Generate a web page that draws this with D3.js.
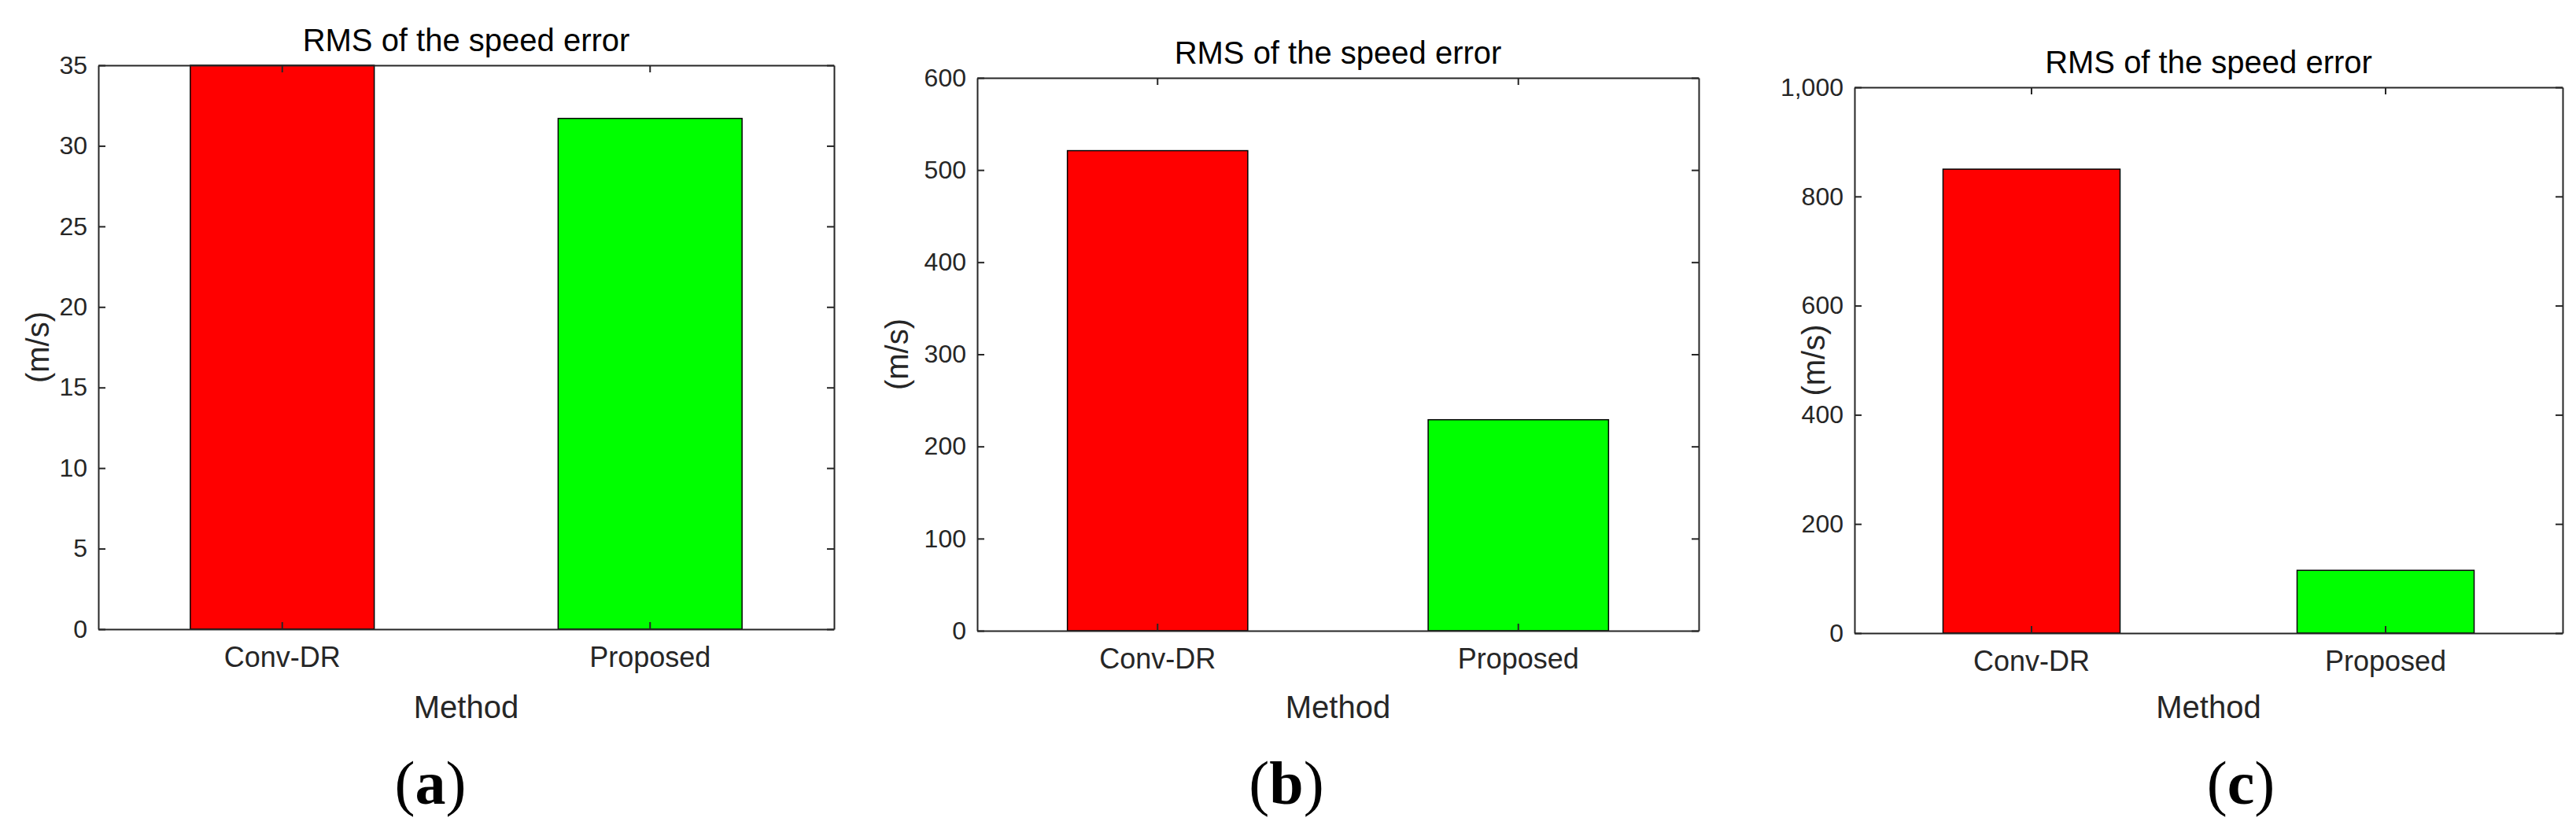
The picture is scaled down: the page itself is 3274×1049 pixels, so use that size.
<!DOCTYPE html>
<html><head><meta charset="utf-8">
<script src="https://cdn.jsdelivr.net/npm/d3@7"></script>
<style>body{margin:0;background:#fff}svg{display:block}text{font-family:"Liberation Sans",Arial,sans-serif;fill:#262626}</style>
</head><body><svg id="c" width="3274" height="1049"></svg>
<script>
const categories = ["Conv-DR", "Proposed"];
const valuesA = [35.0, 31.7];
const valuesB = [521, 229];
const valuesC = [850, 115];
const yMaxes = [35, 600, 1000];
const tickSteps = [5, 100, 200];
const labels = ["(a)", "(b)", "(c)"];
const colors = ["#ff0000", "#00ff00"];

const panels = [
  {vals: valuesA, l:125, r:1060, t:83, b:800, ylx:48, capx:547},
  {vals: valuesB, l:1242, r:2159, t:99, b:802, ylx:1140, capx:1635},
  {vals: valuesC, l:2357, r:3257, t:111, b:805, ylx:2305, capx:2848}
];
const svg = d3.select("#c");
panels.forEach((p, i) => {
  const W = p.r - p.l, H = p.b - p.t;
  const g = svg.append("g").attr("transform", `translate(${p.l},${p.t})`);
  const x = d3.scaleBand().domain(categories).range([0, W]).paddingInner(0.5).paddingOuter(0.25);
  const y = d3.scaleLinear().domain([0, yMaxes[i]]).range([H, 0]);
  const ticks = d3.range(0, yMaxes[i] + 1e-9, tickSteps[i]);
  g.selectAll("rect.bar").data(p.vals).join("rect").attr("class","bar")
    .attr("x", (d,j) => x(categories[j])).attr("width", x.bandwidth())
    .attr("y", d => y(d)).attr("height", d => H - y(d))
    .attr("fill", (d,j) => colors[j]).attr("stroke", "#000").attr("stroke-width", 1.5);
  const ax = [
    d3.axisLeft(y).tickValues(ticks).tickSizeInner(-9).tickSizeOuter(0).tickPadding(14),
    d3.axisRight(y).tickValues(ticks).tickSizeInner(-9).tickSizeOuter(0).tickFormat(""),
    d3.axisBottom(x).tickSizeInner(-9).tickSizeOuter(0).tickPadding(22),
    d3.axisTop(x).tickSizeInner(-9).tickSizeOuter(0).tickFormat("")
  ];
  const pos = [[0,0],[W,0],[0,H],[0,0]];
  ax.forEach((a,k) => {
    const ag = g.append("g").attr("transform", `translate(${pos[k][0]},${pos[k][1]})`).call(a);
    ag.selectAll("path,line").attr("stroke", "#262626").attr("stroke-width", 2);
    ag.selectAll("text").attr("fill", "#262626").style("font-family", '"Liberation Sans",Arial,sans-serif');
    if (k===0) ag.selectAll("text").style("font-size", "32px");
    if (k===2) ag.selectAll("text").style("font-size", "36px").attr("dy", "0.71em");
  });
  svg.append("text").attr("x", p.l + W/2).attr("y", p.t - 18).attr("text-anchor","middle")
    .style("font-size","40px").style("fill","#000").text("RMS of the speed error");
  svg.append("text").attr("x", p.l + W/2).attr("y", 913).attr("text-anchor","middle")
    .style("font-size","40px").text("Method");
  svg.append("text").attr("transform", `translate(${p.ylx},${p.t + H/2}) rotate(-90)`)
    .attr("text-anchor","middle").attr("dy","0.35em").style("font-size","40px").text("(m/s)");
  const cap = svg.append("text").attr("x", p.capx).attr("y", 1022).attr("text-anchor","middle")
    .style("font-family",'"Liberation Serif","DejaVu Serif",serif').style("font-size","78px").style("fill","#000");
  cap.append("tspan").text("(");
  cap.append("tspan").style("font-weight","bold").text(labels[i].slice(1,2));
  cap.append("tspan").text(")");
});
</script></body></html>
